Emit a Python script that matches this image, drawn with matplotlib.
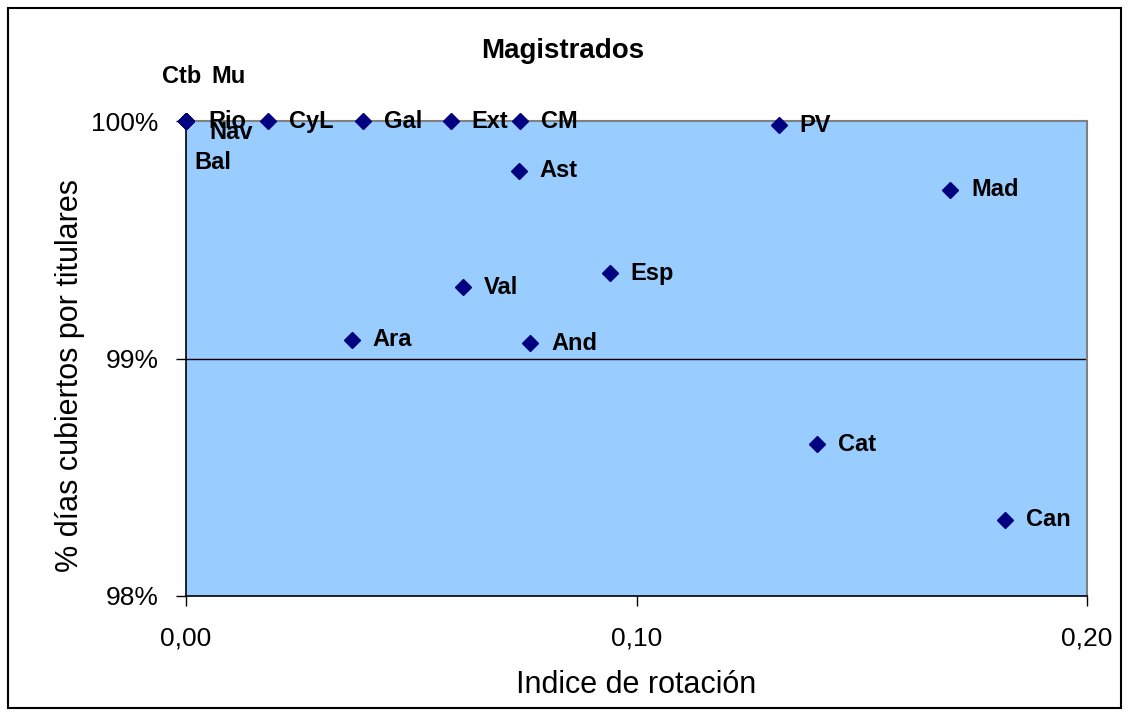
import matplotlib.pyplot as plt
from matplotlib.ticker import FuncFormatter

# data
regiones = ['Ctb', 'Mu', 'Rio', 'Nav', 'Bal', 'CyL', 'Gal', 'Ext', 'CM', 'PV',
            'Ast', 'Mad', 'Esp', 'Val', 'Ara', 'And', 'Cat', 'Can']
rotacion = [0.0, 0.0, 0.0, 0.0, 0.0, 0.0182, 0.0393, 0.0588, 0.0741, 0.1316,
            0.0739, 0.1696, 0.0941, 0.0615, 0.0368, 0.0764, 0.1401, 0.1818]
cubiertos = [100.0, 100.0, 100.0, 100.0, 100.0, 100.0, 100.0, 100.0, 100.0, 99.983,
             99.79, 99.71, 99.36, 99.30, 99.08, 99.065, 98.64, 98.32]

# label offsets (points) for the crowded corner at 0
offsets = {'Ctb': (-17, 32), 'Mu': (18, 32), 'Rio': (16, 0), 'Nav': (17, -8), 'Bal': (6, -30)}

plt.rcParams['font.family'] = ['Liberation Sans', 'DejaVu Sans']

fig = plt.figure(figsize=(11.29, 7.16), dpi=100)
ax = fig.add_axes([0.1648, 0.1676, 0.7980, 0.6634])
ax.set_facecolor('#99CCFF')

ax.plot(rotacion, cubiertos, linestyle='none', marker='D', markersize=8,
        color='#000080', clip_on=False, zorder=3)
for nombre, x, y in zip(regiones, rotacion, cubiertos):
    ax.annotate(nombre, (x, y), xytext=offsets.get(nombre, (15, 0)), textcoords='offset points',
                ha='left', va='center', fontsize=17, fontweight='bold', zorder=4,
                annotation_clip=False)

ax.set_xlim(0, 0.20)
ax.set_ylim(98, 100)
ax.set_xticks([0, 0.10, 0.20])
ax.set_yticks([98, 99, 100])
ax.xaxis.set_major_formatter(FuncFormatter(lambda v, p: f'{v:.2f}'.replace('.', ',')))
ax.yaxis.set_major_formatter(FuncFormatter(lambda v, p: f'{v:.0f}%'))
ax.tick_params(axis='both', direction='out', length=7, width=1, labelsize=19)
ax.tick_params(axis='y', pad=13)
ax.tick_params(axis='x', pad=15)
ax.axhline(99, color='black', linewidth=1, zorder=2)

for s in ['top', 'right']:
    ax.spines[s].set_color('#808080')
    ax.spines[s].set_linewidth(1.5)
for s in ['left', 'bottom']:
    ax.spines[s].set_color('black')
    ax.spines[s].set_linewidth(1.2)

ax.set_xlabel('Indice de rotación', fontsize=22, labelpad=14)
ax.set_ylabel('% días cubiertos por titulares', fontsize=22)
ax.yaxis.set_label_coords(-0.112, 0.465)
fig.text(0.498, 0.929, 'Magistrados', ha='center', va='center', fontsize=20, fontweight='bold')

fig.patches.append(plt.Rectangle((0.007, 0.011), 0.986, 0.978, transform=fig.transFigure,
                                 fill=False, edgecolor='black', linewidth=1.5))

fig.savefig('out.png', dpi=100)
